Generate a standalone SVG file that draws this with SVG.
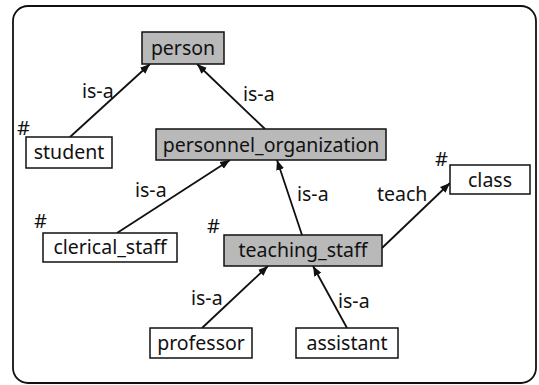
<svg xmlns="http://www.w3.org/2000/svg" width="539" height="385" viewBox="0 0 539 385">
<defs>
<style>
text{font-family:"Noto Sans","Liberation Sans",sans-serif;fill:#111}
.lbl{font-size:19.5px}
.node{font-size:19.5px;text-anchor:middle}
.hash{font-size:20px}
.box{fill:#fff;stroke:#111;stroke-width:1.5}
.shade{fill:#b9b9b9;stroke:#111;stroke-width:1.5}
.edge{stroke:#111;stroke-width:1.8;fill:none;marker-end:url(#arr)}
</style>
<marker id="arr" viewBox="0 0 10 10" refX="10" refY="5" markerWidth="10" markerHeight="10" markerUnits="userSpaceOnUse" orient="auto">
<path d="M0,1 L10,5 L0,9 Z" fill="#111"/>
</marker>
</defs>
<rect x="0" y="0" width="539" height="385" fill="#fff"/>
<rect id="frame" x="13" y="6" width="523" height="377" rx="15" ry="15" fill="none" stroke="#111" stroke-width="1.8"/>
<g id="connectors">
<line class="edge" x1="70" y1="137" x2="150" y2="64"/>
<line class="edge" x1="265" y1="129" x2="197" y2="64"/>
<line class="edge" x1="117" y1="233" x2="230" y2="160"/>
<line class="edge" x1="302" y1="235" x2="277" y2="160"/>
<line class="edge" x1="382" y1="248" x2="450" y2="183"/>
<line class="edge" x1="202" y1="328" x2="268" y2="266"/>
<line class="edge" x1="347" y1="328" x2="313" y2="266"/>
<text class="lbl" x="82" y="98">is-a</text>
<text class="lbl" x="243" y="101">is-a</text>
<text class="lbl" x="135" y="197">is-a</text>
<text class="lbl" x="297" y="201">is-a</text>
<text class="lbl" x="377" y="201">teach</text>
<text class="lbl" x="191" y="305">is-a</text>
<text class="lbl" x="338" y="308">is-a</text>
</g>
<g id="person">
<rect class="shade" x="142" y="32" width="82" height="32"/>
<text class="node" x="183" y="55">person</text>
</g>
<g id="student">
<text class="hash" x="17" y="135">#</text>
<rect class="box" x="26" y="137" width="86" height="31"/>
<text class="node" x="69" y="159">student</text>
</g>
<g id="personnel_organization">
<rect class="shade" x="156" y="129" width="230" height="31"/>
<text class="node" x="271" y="152">personnel_organization</text>
</g>
<g id="clerical_staff">
<text class="hash" x="34" y="228">#</text>
<rect class="box" x="43" y="233" width="134" height="29"/>
<text class="node" x="110" y="254">clerical_staff</text>
</g>
<g id="teaching_staff">
<text class="hash" x="207" y="233">#</text>
<rect class="shade" x="224" y="235" width="158" height="31"/>
<text class="node" x="303" y="257">teaching_staff</text>
</g>
<g id="class">
<text class="hash" x="435" y="166">#</text>
<rect class="box" x="450" y="165" width="80" height="29"/>
<text class="node" x="490" y="187">class</text>
</g>
<g id="professor">
<rect class="box" x="150" y="328" width="102" height="30"/>
<text class="node" x="201" y="350">professor</text>
</g>
<g id="assistant">
<rect class="box" x="296" y="328" width="102" height="30"/>
<text class="node" x="347" y="350">assistant</text>
</g>
</svg>
